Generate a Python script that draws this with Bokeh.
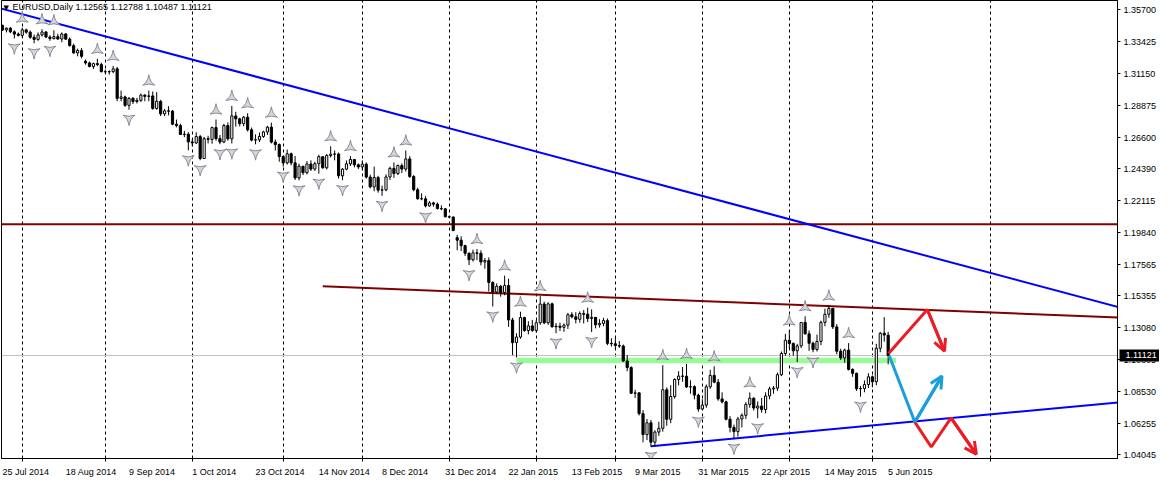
from bokeh.plotting import figure
from bokeh.models import (Range1d, FixedTicker, PrintfTickFormatter, Span, Label,
                          Arrow, OpenHead, LinearAxis)
from bokeh.embed import file_html
from bokeh.resources import INLINE
import math

# ---------------- data ----------------
title_text = "EURUSD,Daily  1.12565 1.12788 1.10487 1.11121"
date_label_idx = [0, 16, 32, 48, 64, 80, 96, 112, 128, 144, 160, 176, 192, 208, 224]
date_labels = ["25 Jul 2014", "18 Aug 2014", "9 Sep 2014", "1 Oct 2014", "23 Oct 2014",
               "14 Nov 2014", "8 Dec 2014", "31 Dec 2014", "22 Jan 2015", "13 Feb 2015",
               "9 Mar 2015", "31 Mar 2015", "22 Apr 2015", "14 May 2015", "5 Jun 2015"]
month_start_idx = [5, 26, 48, 71, 91, 113, 135, 155, 177, 199, 220, 250]
price_ticks = [1.35700, 1.33425, 1.31150, 1.28875, 1.26600, 1.24390, 1.22115, 1.19840,
               1.17565, 1.15355, 1.13080, 1.10805, 1.08530, 1.06255, 1.04045]

opens = [1.3460,1.3428,1.3440,1.3414,1.3398,1.3389,1.3428,1.3412,1.3375,1.3360,
1.3392,1.3413,1.3377,1.3366,1.3380,1.3363,1.3399,1.3362,1.3316,1.3264,
1.3281,1.3205,1.3193,1.3167,1.3188,1.3181,1.3131,1.3130,1.3131,1.3151,
1.2941,1.2951,1.2891,1.2941,1.2918,1.2927,1.2964,1.2955,1.2958,1.2869,
1.2920,1.2831,1.2852,1.2850,1.2757,1.2747,1.2684,1.2686,1.2631,1.2624,
1.2669,1.2513,1.2654,1.2649,1.2733,1.2654,1.2630,1.2748,1.2653,1.2816,
1.2795,1.2761,1.2807,1.2717,1.2644,1.2646,1.2670,1.2702,1.2736,1.2630,
1.2612,1.2527,1.2482,1.2547,1.2482,1.2375,1.2458,1.2412,1.2474,1.2438,
1.2476,1.2526,1.2447,1.2534,1.2544,1.2545,1.2390,1.2437,1.2475,1.2506,
1.2468,1.2453,1.2473,1.2381,1.2311,1.2378,1.2288,1.2290,1.2382,1.2443,
1.2406,1.2463,1.2438,1.2510,1.2385,1.2291,1.2227,1.2226,1.2176,1.2197,
1.2188,1.2157,1.2155,1.2098,1.2097,1.1950,1.1932,1.1893,1.1839,1.1793,
1.1842,1.1839,1.1777,1.1787,1.1631,1.1563,1.1604,1.1560,1.1610,1.1365,
1.1203,1.1243,1.1382,1.1289,1.1322,1.1290,1.1345,1.1478,1.1344,1.1479,
1.1316,1.1320,1.1312,1.1328,1.1402,1.1387,1.1369,1.1410,1.1405,1.1375,
1.1383,1.1330,1.1340,1.1360,1.1198,1.1195,1.1183,1.1179,1.1073,1.1026,
1.0843,1.0846,1.0698,1.0549,1.0633,1.0495,1.0567,1.0594,1.0868,1.0658,
1.0820,1.0941,1.0965,1.0964,1.0888,1.0890,1.0830,1.0731,1.0759,1.0889,
1.0970,1.0922,1.0803,1.0782,1.0658,1.0600,1.0570,1.0660,1.0686,1.0764,
1.0808,1.0738,1.0752,1.0727,1.0824,1.0874,1.0880,1.0975,1.1126,1.1220,
1.1197,1.1145,1.1180,1.1347,1.1266,1.1199,1.1155,1.1212,1.1347,1.1405,
1.1447,1.1315,1.1142,1.1094,1.1150,1.1013,1.0985,1.0875,1.0877,1.0905,
1.0960,1.0925,1.1163,1.1270,1.12565]

highs = [1.3465,1.3445,1.3448,1.3425,1.3410,1.3444,1.3437,1.3424,1.3395,1.3410,
1.3432,1.3420,1.3390,1.3425,1.3400,1.3410,1.3405,1.3375,1.3330,1.3295,
1.3298,1.3218,1.3202,1.3195,1.3222,1.3195,1.3146,1.3140,1.3172,1.3165,
1.2996,1.2960,1.2950,1.2950,1.2945,1.2975,1.2970,1.2996,1.2990,1.2985,
1.2930,1.2866,1.2885,1.2858,1.2790,1.2760,1.2710,1.2700,1.2651,1.2700,
1.2680,1.2667,1.2675,1.2740,1.2790,1.2680,1.2760,1.2770,1.2887,1.2845,
1.2803,1.2815,1.2835,1.2733,1.2685,1.2698,1.2710,1.2745,1.2768,1.2648,
1.2620,1.2535,1.2577,1.2555,1.2531,1.2476,1.2460,1.2495,1.2500,1.2490,
1.2540,1.2528,1.2545,1.2600,1.2570,1.2555,1.2445,1.2499,1.2530,1.2510,
1.2478,1.2500,1.2485,1.2398,1.2456,1.2390,1.2320,1.2400,1.2455,1.2485,
1.2470,1.2478,1.2570,1.2530,1.2395,1.2305,1.2266,1.2245,1.2210,1.2205,
1.2200,1.2180,1.2160,1.2105,1.2100,1.1970,1.1960,1.1900,1.1845,1.1865,
1.1869,1.1860,1.1805,1.1810,1.1640,1.1625,1.1614,1.1680,1.1658,1.1380,
1.1270,1.1423,1.1387,1.1355,1.1365,1.1365,1.1534,1.1495,1.1490,1.1488,
1.1342,1.1345,1.1340,1.1415,1.1420,1.1420,1.1425,1.1435,1.1452,1.1440,
1.1385,1.1370,1.1380,1.1375,1.1235,1.1235,1.1215,1.1190,1.1115,1.1035,
1.0868,1.0850,1.0723,1.0660,1.0653,1.0580,1.0640,1.1043,1.0885,1.0900,
1.0950,1.1000,1.1030,1.1052,1.0935,1.0900,1.0840,1.0800,1.0905,1.1010,
1.1035,1.0945,1.0850,1.0790,1.0680,1.0620,1.0675,1.0700,1.0780,1.0849,
1.0815,1.0785,1.0810,1.0850,1.0890,1.0895,1.0990,1.1140,1.1266,1.1290,
1.1205,1.1195,1.1350,1.1391,1.1290,1.1210,1.1260,1.1360,1.1445,1.1467,
1.1450,1.1335,1.1160,1.1160,1.1200,1.1020,1.0990,1.0895,1.0935,1.0985,
1.0970,1.1195,1.1280,1.1385,1.12788]

lows = [1.3420,1.3410,1.3405,1.3367,1.3380,1.3375,1.3400,1.3365,1.3333,1.3350,
1.3380,1.3370,1.3350,1.3360,1.3358,1.3340,1.3360,1.3310,1.3258,1.3240,
1.3225,1.3180,1.3162,1.3150,1.3170,1.3125,1.3120,1.3110,1.3120,1.2920,
1.2920,1.2880,1.2860,1.2900,1.2905,1.2915,1.2920,1.2920,1.2860,1.2860,
1.2815,1.2815,1.2820,1.2750,1.2735,1.2680,1.2665,1.2571,1.2600,1.2616,
1.2501,1.2510,1.2620,1.2618,1.2640,1.2615,1.2622,1.2640,1.2620,1.2740,
1.2742,1.2742,1.2705,1.2635,1.2614,1.2630,1.2660,1.2680,1.2620,1.2570,
1.2490,1.2455,1.2470,1.2465,1.2360,1.2358,1.2395,1.2400,1.2425,1.2425,
1.2405,1.2440,1.2435,1.2520,1.2500,1.2370,1.2359,1.2430,1.2460,1.2450,
1.2438,1.2430,1.2370,1.2300,1.2280,1.2270,1.2247,1.2280,1.2360,1.2375,
1.2395,1.2410,1.2420,1.2375,1.2280,1.2220,1.2216,1.2165,1.2170,1.2170,
1.2150,1.2145,1.2095,1.2090,1.1997,1.1860,1.1855,1.1820,1.1755,1.1780,
1.1790,1.1753,1.1729,1.1567,1.1460,1.1550,1.1530,1.1540,1.1315,1.1114,
1.1098,1.1230,1.1280,1.1262,1.1280,1.1275,1.1330,1.1335,1.1330,1.1310,
1.1270,1.1286,1.1280,1.1300,1.1375,1.1340,1.1345,1.1340,1.1350,1.1279,
1.1305,1.1310,1.1320,1.1185,1.1175,1.1160,1.1165,1.1065,1.1000,1.0838,
1.0810,1.0685,1.0494,1.0510,1.0462,1.0468,1.0540,1.0570,1.0612,1.0630,
1.0805,1.0900,1.0925,1.0880,1.0840,1.0800,1.0712,1.0725,1.0740,1.0875,
1.0915,1.0790,1.0770,1.0650,1.0565,1.0520,1.0535,1.0600,1.0660,1.0740,
1.0720,1.0665,1.0705,1.0700,1.0800,1.0840,1.0860,1.0965,1.1110,1.1160,
1.1110,1.1065,1.1165,1.1260,1.1145,1.1135,1.1140,1.1185,1.1320,1.1380,
1.1300,1.1120,1.1080,1.1060,1.1005,1.0960,1.0860,1.0819,1.0850,1.0880,
1.0885,1.0900,1.1135,1.1210,1.10487]

closes = [1.3428,1.3440,1.3414,1.3398,1.3389,1.3428,1.3412,1.3375,1.3360,1.3392,
1.3413,1.3377,1.3366,1.3380,1.3363,1.3399,1.3362,1.3316,1.3264,1.3281,
1.3240,1.3193,1.3167,1.3188,1.3181,1.3131,1.3130,1.3131,1.3151,1.2941,
1.2951,1.2891,1.2941,1.2918,1.2927,1.2964,1.2955,1.2958,1.2869,1.2920,
1.2831,1.2852,1.2850,1.2757,1.2747,1.2684,1.2686,1.2631,1.2624,1.2669,
1.2513,1.2654,1.2649,1.2733,1.2654,1.2630,1.2748,1.2653,1.2816,1.2795,
1.2761,1.2807,1.2717,1.2644,1.2646,1.2670,1.2702,1.2736,1.2630,1.2612,
1.2527,1.2482,1.2547,1.2482,1.2375,1.2458,1.2412,1.2474,1.2438,1.2476,
1.2526,1.2447,1.2534,1.2544,1.2545,1.2390,1.2437,1.2475,1.2506,1.2468,
1.2453,1.2473,1.2381,1.2311,1.2378,1.2288,1.2290,1.2382,1.2443,1.2406,
1.2463,1.2438,1.2510,1.2385,1.2291,1.2227,1.2226,1.2176,1.2197,1.2188,
1.2157,1.2155,1.2098,1.2097,1.2000,1.1932,1.1893,1.1839,1.1793,1.1842,
1.1839,1.1777,1.1787,1.1631,1.1563,1.1604,1.1560,1.1610,1.1365,1.1203,
1.1243,1.1382,1.1289,1.1322,1.1290,1.1345,1.1478,1.1344,1.1479,1.1316,
1.1320,1.1312,1.1328,1.1402,1.1387,1.1369,1.1410,1.1405,1.1375,1.1383,
1.1330,1.1340,1.1360,1.1198,1.1195,1.1183,1.1179,1.1073,1.1026,1.0843,
1.0846,1.0698,1.0549,1.0633,1.0495,1.0567,1.0594,1.0868,1.0658,1.0820,
1.0941,1.0965,1.0964,1.0888,1.0890,1.0830,1.0731,1.0759,1.0889,1.0970,
1.0922,1.0803,1.0782,1.0658,1.0600,1.0570,1.0660,1.0686,1.0764,1.0808,
1.0738,1.0752,1.0727,1.0824,1.0874,1.0880,1.0975,1.1126,1.1220,1.1197,
1.1145,1.1180,1.1347,1.1266,1.1199,1.1155,1.1212,1.1347,1.1405,1.1447,
1.1315,1.1142,1.1094,1.1150,1.1013,1.0985,1.0875,1.0877,1.0905,1.0960,
1.0925,1.1163,1.1270,1.1257,1.11121]

last_price = 1.11121
resistance_level = 1.2045
# trend lines: (bar index, price) anchors
blue_top_x = [-1, 283]
blue_top_y = [1.3585, 1.1450]
blue_low_x = [164, 283]
blue_low_y = [1.0466, 1.0780]
red_slope_x = [81, 283]
red_slope_y = [1.1604, 1.1381]
green_zone_x = [130, 226]
green_zone_y = [1.1057, 1.1096]
# hand-drawn projection arrows
proj_red1_x = [224.1, 233.9, 238.25]
proj_red1_y = [1.1126, 1.1439, 1.1142]
proj_blue_x = [224.25, 230.75, 237.6]
proj_blue_y = [1.1112, 1.0638, 1.0965]
proj_red2_x = [230.75, 234.9, 239.9, 246.3]
proj_red2_y = [1.0638, 1.0461, 1.0668, 1.0409]

n = len(closes)
assert len(opens) == n == len(highs) == len(lows) == 225
for k in range(n):
    assert highs[k] >= max(opens[k], closes[k]) and lows[k] <= min(opens[k], closes[k]), k

# ---------------- layout ----------------
W, H = 1159, 479
BL, BR, BT, BB = 1, 30, 0, 4
frame_h = 462
frame_w = 1120
X0, X1 = -0.25, 282.0
Y0, Y1 = 1.0379, 1.3637
FONT = "Liberation Sans"
FS = 9

# approximate Arial/Liberation advance widths (per 1000 em) to left-align date labels
CW = {" ": 278, "J": 500, "u": 556, "l": 222, "A": 667, "g": 556, "S": 667, "e": 556,
      "p": 556, "O": 778, "c": 500, "t": 278, "N": 722, "o": 556, "v": 500, "D": 722,
      "a": 556, "n": 556, "F": 611, "b": 556, "M": 833, "r": 333, "y": 500}
def text_w(s):
    return sum(CW.get(ch, 556) for ch in s) * FS / 1000.0

px_per_bar = frame_w / (X1 - X0)
date_ticks = [round(k + text_w(t) / 2.0 / px_per_bar, 3)
              for k, t in zip(date_label_idx, date_labels)]

p = figure(width=W, height=H, output_backend="svg", toolbar_location=None,
           x_range=Range1d(X0, X1), y_range=Range1d(Y0, Y1),
           y_axis_location="right", min_border_left=BL, min_border_right=BR,
           min_border_top=BT, min_border_bottom=BB)
p.background_fill_color = "white"
p.border_fill_color = "white"
p.outline_line_color = "black"
p.outline_line_width = 1

# price axis
p.yaxis.ticker = FixedTicker(ticks=price_ticks)
p.yaxis.formatter = PrintfTickFormatter(format="%.5f")
p.yaxis.major_tick_in = 0
p.yaxis.major_tick_out = 3
p.yaxis.minor_tick_line_color = None
p.yaxis.major_label_standoff = 3
p.yaxis.axis_label_standoff = 0
p.yaxis.axis_label_text_font_size = "0px"
p.yaxis.major_label_text_font = FONT
p.yaxis.major_label_text_font_size = f"{FS}px"
p.yaxis.major_label_text_color = "black"
p.yaxis.axis_line_color = "black"
p.ygrid.visible = False

# current-price marker: a second right axis whose single thick tick forms the black box
box_axis = LinearAxis(ticker=FixedTicker(ticks=[last_price]),
                      formatter=PrintfTickFormatter(format="%.5f"))
box_axis.axis_line_color = None
box_axis.minor_tick_line_color = None
box_axis.major_tick_line_color = "black"
box_axis.major_tick_line_width = 12
box_axis.major_tick_in = 40
box_axis.major_tick_out = 0
box_axis.major_label_standoff = -34
box_axis.axis_label_standoff = 0
box_axis.axis_label_text_font_size = "0px"
box_axis.major_label_text_font = FONT
box_axis.major_label_text_font_size = f"{FS}px"
box_axis.major_label_text_color = "white"
p.add_layout(box_axis, "right")

# x axis: labels left-aligned on their bars, small tick marks at month starts
p.xaxis.ticker = FixedTicker(ticks=date_ticks, minor_ticks=month_start_idx)
p.xaxis.major_label_overrides = {t: s for t, s in zip(date_ticks, date_labels)}
p.xaxis.major_label_text_font = FONT
p.xaxis.major_label_text_font_size = f"{FS}px"
p.xaxis.major_label_text_color = "black"
p.xaxis.major_label_standoff = 5
p.xaxis.axis_label_standoff = 0
p.xaxis.axis_label_text_font_size = "0px"
p.xaxis.major_tick_line_color = None
p.xaxis.major_tick_in = 0
p.xaxis.major_tick_out = 0
p.xaxis.minor_tick_line_color = "black"
p.xaxis.minor_tick_in = 0
p.xaxis.minor_tick_out = 3
p.xaxis.axis_line_color = "black"

p.xgrid.ticker = FixedTicker(ticks=month_start_idx)
p.xgrid.grid_line_color = "black"
p.xgrid.grid_line_dash = "3 3"
p.xgrid.grid_line_width = 1

# background objects
p.quad(left=[green_zone_x[0]], right=[green_zone_x[1]],
       bottom=[green_zone_y[0]], top=[green_zone_y[1]],
       fill_color="#98fb98", line_color=None)
p.add_layout(Span(location=last_price, dimension="width", line_color="#c0c0c0",
                  line_width=1, level="underlay"))
p.add_layout(Span(location=resistance_level, dimension="width", line_color="#800000",
                  line_width=2, level="underlay"))
p.line(blue_top_x, blue_top_y, line_color="#0000ff", line_width=2)
p.line(blue_low_x, blue_low_y, line_color="#0000ff", line_width=2)
p.line(red_slope_x, red_slope_y, line_color="#800000", line_width=2)

# candles
idx = list(range(n))
up = [k for k in idx if closes[k] >= opens[k]]
dn = [k for k in idx if closes[k] < opens[k]]
p.segment(x0=idx, y0=lows, x1=idx, y1=highs, line_color="black", line_width=1)
p.vbar(x=up, width=0.55, top=[closes[k] for k in up], bottom=[opens[k] for k in up],
       fill_color="white", line_color="black", line_width=1)
p.vbar(x=dn, width=0.55, top=[opens[k] for k in dn], bottom=[closes[k] for k in dn],
       fill_color="black", line_color="black", line_width=1)

# fractals
off = 9 * (Y1 - Y0) / frame_h
fu_x, fu_y, fd_x, fd_y = [], [], [], []
for k in range(2, n - 2):
    if highs[k] > max(highs[k - 2], highs[k - 1], highs[k + 1], highs[k + 2]):
        fu_x.append(k); fu_y.append(highs[k] + off)
    if lows[k] < min(lows[k - 2], lows[k - 1], lows[k + 1], lows[k + 2]):
        fd_x.append(k); fd_y.append(lows[k] - off)
p.scatter(fu_x, fu_y, marker="triangle_pin", size=12, fill_color="#d6d6de",
          line_color="#8a8a96", line_width=1)
p.scatter(fd_x, fd_y, marker="triangle_pin", size=12, angle=math.pi,
          fill_color="#d6d6de", line_color="#8a8a96", line_width=1)

# projections
RED = "#ed1c24"
LBLUE = "#1a9fdb"
for xs, ys, col in [(proj_red1_x, proj_red1_y, RED), (proj_blue_x, proj_blue_y, LBLUE),
                    (proj_red2_x, proj_red2_y, RED)]:
    p.line(xs, ys, line_color=col, line_width=3)
    p.add_layout(Arrow(end=OpenHead(size=12, line_color=col, line_width=3),
                       x_start=xs[-2], y_start=ys[-2], x_end=xs[-1], y_end=ys[-1],
                       line_color=col, line_width=3))

# title (anchored to the top of the chart)
p.add_layout(Label(x=2, y=Y1, x_units="screen", y_units="data", y_offset=-3, text="▼",
                   text_font="DejaVu Sans", text_font_size="7px", text_color="black",
                   text_baseline="top", text_align="left"))
p.add_layout(Label(x=11, y=Y1, x_units="screen", y_units="data", y_offset=-1,
                   text=title_text, text_font=FONT, text_font_size=f"{FS}px",
                   text_color="black", text_baseline="top", text_align="left"))

open("out.html", "w").write(file_html(p, INLINE))
